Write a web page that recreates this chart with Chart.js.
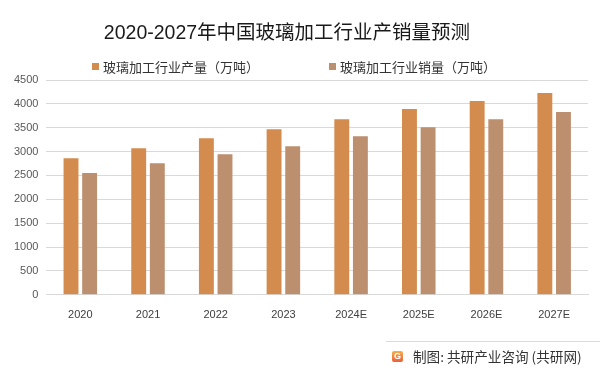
<!DOCTYPE html>
<html><head><meta charset="utf-8">
<script src="https://cdn.jsdelivr.net/npm/chart.js@4/dist/chart.umd.min.js"></script>
<style>
html,body{margin:0;padding:0;background:#fff;}
#wrap{position:relative;width:600px;height:372px;font-family:"Liberation Sans","Noto Sans CJK SC",sans-serif;}
#title{position:absolute;left:0;width:574px;top:16px;text-align:center;font-size:19.5px;color:#1a1a1a;font-family:"Liberation Sans","Noto Sans CJK SC",sans-serif;white-space:nowrap;}
.leg{position:absolute;top:57px;font-size:13px;color:#333;display:flex;align-items:center;font-family:"Noto Sans CJK SC",sans-serif;white-space:nowrap;}
.leg i{display:inline-block;width:7px;height:7px;margin-right:4px;}
#footline{position:absolute;left:386px;right:0;top:341px;height:1px;background:#dcdcdc;}
#foot{position:absolute;left:392px;top:346px;font-size:13.6px;color:#333;display:flex;align-items:center;font-family:"Noto Sans CJK SC",sans-serif;white-space:nowrap;}
#logo{width:11px;height:11px;border-radius:2px;background:linear-gradient(180deg,#f6b04a,#e8603c);color:#fff;font-size:9px;font-weight:bold;line-height:11px;text-align:center;margin-right:10px;font-family:"Liberation Sans",sans-serif;}
canvas{position:absolute;left:0;top:0;}
</style></head>
<body><div id="wrap">
<canvas id="c" width="600" height="372"></canvas>
<div id="title">2020-2027年中国玻璃加工行业产销量预测</div>
<div class="leg" id="leg0" style="left:92px"><i></i><span></span></div>
<div class="leg" id="leg1" style="left:329px"><i></i><span></span></div>
<div id="footline"></div>
<div id="foot"><div id="logo">G</div>制图: 共研产业咨询 (共研网)</div>
</div>
<script>
const categories = ["2020","2021","2022","2023","2024E","2025E","2026E","2027E"];
const production = [2860,3070,3280,3470,3680,3890,4060,4230];
const sales = [2550,2755,2945,3110,3320,3510,3680,3830];
const seriesNames = ["玻璃加工行业产量（万吨）","玻璃加工行业销量（万吨）"];
const seriesColors = ['#D38B4E','#BC8F6E'];

const chart = new Chart(document.getElementById('c'), {
  type: 'bar',
  data: {
    labels: categories,
    datasets: [
      {label: seriesNames[0], data: production, backgroundColor: seriesColors[0]},
      {label: seriesNames[1], data: sales, backgroundColor: seriesColors[1]}
    ]
  },
  options: {
    responsive: false,
    animation: false,
    devicePixelRatio: 1,
    layout: {padding: {top: 80, left: 6, right: 12, bottom: 44}},
    datasets: {bar: {categoryPercentage: 0.55, barPercentage: 0.8}},
    plugins: {
      legend: {display: false},
      tooltip: {enabled: false},
      title: {display: false}
    },
    scales: {
      x: {
        grid: {display: false},
        border: {color: '#d9d9d9'},
        ticks: {color: '#404040', font: {size: 11, family: '"Liberation Sans", sans-serif'}, padding: 6}
      },
      y: {
        min: 0, max: 4500,
        ticks: {stepSize: 500, autoSkip: false, color: '#595959', font: {size: 11, family: '"Liberation Sans", sans-serif'}, padding: 8,
          callback: v => String(v)},
        grid: {color: '#d9d9d9', drawTicks: false},
        border: {display: false}
      }
    }
  }
});
chart.data.datasets.forEach((ds, i) => {
  const el = document.getElementById('leg' + i);
  el.querySelector('i').style.background = ds.backgroundColor;
  el.querySelector('span').textContent = ds.label;
});
</script>
</body></html>
